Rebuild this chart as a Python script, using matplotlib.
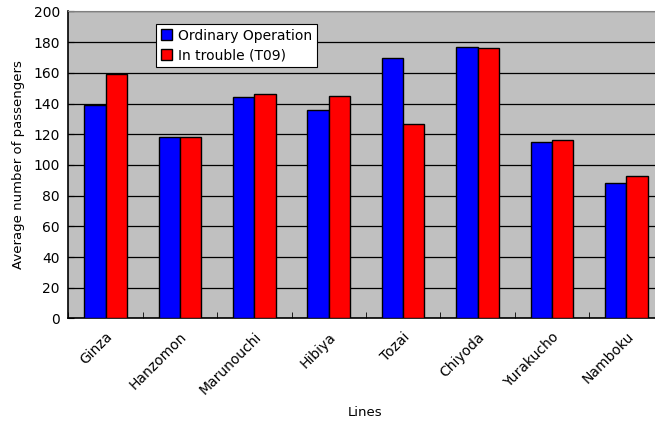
import numpy as np
import matplotlib
matplotlib.use('Agg')
import matplotlib.pyplot as plt

lines = ['Ginza', 'Hanzomon', 'Marunouchi', 'Hibiya', 'Tozai', 'Chiyoda', 'Yurakucho', 'Namboku']
ordinary = [139, 118, 144, 136, 170, 177, 115, 88.5]
trouble = [159, 118, 146, 145, 126.5, 176, 116.5, 92.5]
yticks = [0, 20, 40, 60, 80, 100, 120, 140, 160, 180, 200]

fig = plt.figure(figsize=(6.55, 4.25), dpi=100)
ax = fig.add_axes([0.1043, 0.2506, 0.9087, 0.7224])
ax.set_facecolor('#c0c0c0')

x = np.arange(len(lines))
w = 0.2857
ax.bar(x - w/2, ordinary, w, color='#0000ff', edgecolor='black', linewidth=1, label='Ordinary Operation', zorder=3)
ax.bar(x + w/2, trouble, w, color='#ff0000', edgecolor='black', linewidth=1, label='In trouble (T09)', zorder=3)

ax.set_xlim(-0.5, len(lines) - 0.5)
ax.set_ylim(0, 200)
ax.set_yticks(yticks)
ax.tick_params(axis='y', direction='in', length=4, labelsize=10, pad=6)
ax.yaxis.grid(True, color='black', linewidth=0.9, zorder=0)
ax.set_axisbelow(True)

# category labels centered, tick marks between categories
ax.set_xticks(x)
ax.set_xticklabels(lines, rotation=45, ha='right', rotation_mode='anchor', fontsize=10)
ax.tick_params(axis='x', length=0, pad=8)
ax.set_xticks(np.arange(len(lines) + 1) - 0.5, minor=True)
ax.tick_params(axis='x', which='minor', direction='in', length=4)

for s in ['top', 'right']:
    ax.spines[s].set_color('#808080')
for s in ['left', 'bottom']:
    ax.spines[s].set_color('black')
    ax.spines[s].set_linewidth(1.2)

ax.set_ylabel('Average number of passengers', fontsize=9.5, labelpad=6)
fig.text(365/655, 1 - 413/425, 'Lines', fontsize=9.5, ha='center', va='center')

leg = ax.legend(loc='upper left', bbox_to_anchor=(0.148, 0.96), fontsize=10, fancybox=False,
                framealpha=1, edgecolor='black', handlelength=0.8, handleheight=0.8,
                handletextpad=0.4, borderpad=0.35, labelspacing=0.4, borderaxespad=0)
leg.get_frame().set_linewidth(0.8)

fig.savefig('out.png', dpi=100)
